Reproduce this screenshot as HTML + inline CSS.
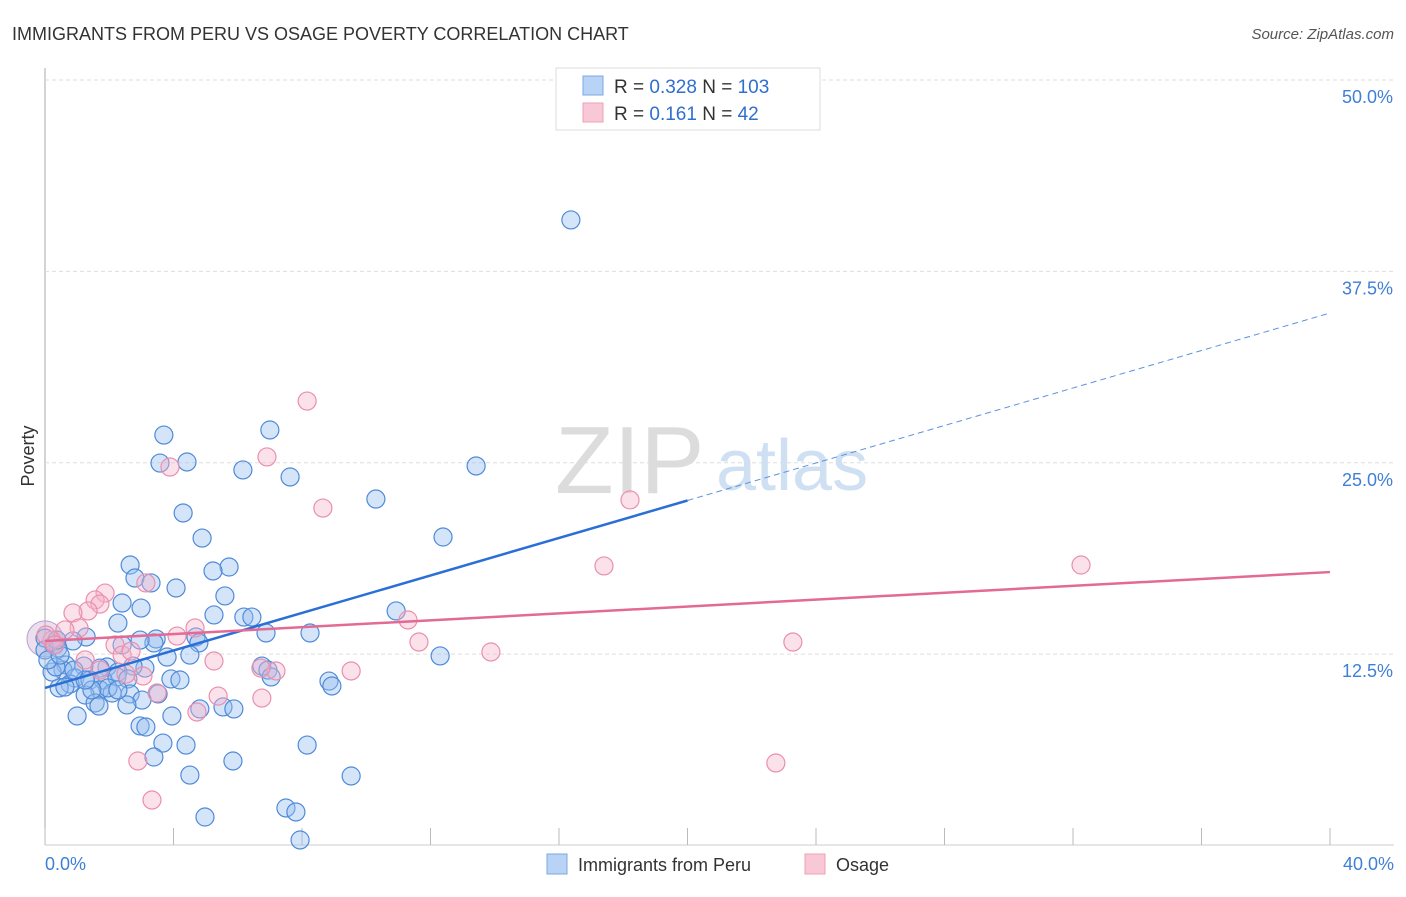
<!DOCTYPE html>
<html><head><meta charset="utf-8"><style>
body{margin:0;background:#fff;font-family:"Liberation Sans",sans-serif}
svg text{font-family:"Liberation Sans",sans-serif}
</style></head><body>
<svg id="chart" width="1406" height="892" viewBox="0 0 1406 892">
<text x="12" y="40" font-size="18" fill="#333">IMMIGRANTS FROM PERU VS OSAGE POVERTY CORRELATION CHART</text>
<text x="1394" y="39" font-size="15" fill="#555" font-style="italic" text-anchor="end">Source: ZipAtlas.com</text>
<g id="grid"></g>
<g>
<text x="555" y="493" font-size="96" fill="#dcdcdc" font-family="Liberation Serif,serif">ZIP</text>
<text x="716" y="490" font-size="72" fill="#cfe0f3">atlas</text>
</g>
<text transform="translate(34,456) rotate(-90)" font-size="18" fill="#333" text-anchor="middle">Poverty</text>
<g id="marks"></g>
<g id="lines"></g>
<g>
<rect x="556" y="68" width="264" height="62" fill="#fff" stroke="#ddd"/>
<rect x="583" y="76" width="20" height="19" fill="#b8d3f5" stroke="#7aa8e3"/>
<rect x="583" y="103" width="20" height="19" fill="#f9c8d6" stroke="#eda0b8"/>
<text x="614" y="93" font-size="19" fill="#333">R = <tspan fill="#2f6fcf">0.328</tspan>   N = <tspan fill="#2f6fcf">103</tspan></text>
<text x="614" y="120" font-size="19" fill="#333">R =  <tspan fill="#2f6fcf">0.161</tspan>   N =   <tspan fill="#2f6fcf">42</tspan></text>
</g>
<g>
<rect x="547" y="854" width="20" height="20" fill="#b8d3f5" stroke="#7aa8e3"/>
<text x="578" y="871" font-size="18" fill="#333">Immigrants from Peru</text>
<rect x="805" y="854" width="20" height="20" fill="#f9c8d6" stroke="#eda0b8"/>
<text x="836" y="871" font-size="18" fill="#333">Osage</text>
</g>
</svg>
<script>
const yTicks=[12.5,25,37.5,50];
const yTickLabels=["12.5%","25.0%","37.5%","50.0%"];
const xEdgeLabels=["0.0%","40.0%"];
const bluePts=[[571,220],[476,466],[376,499],[443,537],[270,430],[164,435],[187,462],[160,463],[243,470],[290,477],[183,513],[202,538],[130,565],[229,567],[213,571],[135,578],[151,583],[176,588],[225,596],[122,603],[141,608],[214,615],[244,617],[252,617],[396,611],[118,623],[266,633],[310,633],[156,639],[154,643],[196,637],[199,643],[86,637],[73,641],[54,645],[58,648],[190,655],[167,657],[440,656],[262,666],[268,670],[271,677],[329,681],[332,686],[145,668],[133,666],[107,667],[118,672],[100,668],[84,666],[66,665],[63,670],[52,672],[56,667],[75,678],[70,684],[90,680],[103,680],[117,677],[128,679],[171,679],[180,680],[59,688],[100,690],[112,693],[85,695],[130,694],[158,694],[142,700],[95,703],[99,706],[127,705],[223,707],[234,709],[200,709],[77,716],[172,716],[140,726],[146,727],[163,743],[186,745],[307,745],[154,757],[233,761],[190,775],[351,776],[286,808],[296,812],[205,817],[300,840],[45,638],[45,650],[48,660],[60,655],[57,640],[122,645],[108,688],[118,690],[92,690],[65,687],[85,680],[74,670],[140,640]];
const pinkPts=[[307,401],[267,457],[170,467],[323,508],[630,500],[604,566],[1081,565],[146,583],[105,593],[95,600],[100,604],[88,611],[73,613],[79,628],[177,636],[195,628],[115,645],[122,655],[131,651],[408,620],[419,642],[491,652],[793,642],[214,661],[351,671],[276,671],[261,668],[143,676],[126,674],[157,693],[218,696],[197,712],[262,698],[138,761],[776,763],[152,800],[52,640],[46,635],[55,645],[65,630],[85,660],[100,670]];
// convert reference pixel readings to data values (%)
const blueX=bluePts.map(p=>+((p[0]-45)/32.125).toFixed(2));
const blueY=bluePts.map(p=>+((845.5-p[1])/15.31).toFixed(2));
const pinkX=pinkPts.map(p=>+((p[0]-45)/32.125).toFixed(2));
const pinkY=pinkPts.map(p=>+((845.5-p[1])/15.31).toFixed(2));
const blueTrend=[10.29,34.78];
const pinkTrend=[13.36,17.86];
const blueSolidEnd=20.0;

const NS="http://www.w3.org/2000/svg";
const X=v=>45+v*32.125, Y=v=>845.5-v*15.31;
function mk(t,a,p){const e=document.createElementNS(NS,t);for(const k in a)e.setAttribute(k,a[k]);p.appendChild(e);return e;}
const grid=document.getElementById('grid');
mk('line',{x1:45,y1:68,x2:45,y2:845,stroke:'#aaa'},grid);
mk('line',{x1:45,y1:845,x2:1394,y2:845,stroke:'#ccc'},grid);
yTicks.forEach((t,i)=>{
 const gl=mk('line',{x1:45,y1:Y(t),x2:1394,y2:Y(t),stroke:'#ddd','stroke-dasharray':'4,3'},grid);
 
 
 const tx=mk('text',{x:1393,y:Y(t)+23,'font-size':18,fill:'#3f7fd6','text-anchor':'end'},grid);
 tx.textContent=yTickLabels[i];
 
 
});
for(let i=0;i<=10;i++){
 const tk=mk('line',{x1:X(i*4),y1:828,x2:X(i*4),y2:845,stroke:'#bbb'},grid);
 
 
}
const xl0=mk('text',{x:45,y:870,'font-size':18,fill:'#3f7fd6'},grid);xl0.textContent=xEdgeLabels[0];


const xl1=mk('text',{x:1394,y:870,'font-size':18,fill:'#3f7fd6','text-anchor':'end'},grid);xl1.textContent=xEdgeLabels[1];



const marks=document.getElementById('marks');
const big1=mk('circle',{cx:X(0),cy:Y(13.5),r:18,fill:'rgba(200,160,200,0.35)',stroke:'#b6a0d6'},marks);


blueX.forEach((x,i)=>{
 const c=mk('circle',{cx:X(x),cy:Y(blueY[i]),r:9,fill:'rgba(150,190,240,0.4)',stroke:'#4f8ad8','stroke-width':1.2},marks);
 
 
});
pinkX.forEach((x,i)=>{
 const c=mk('circle',{cx:X(x),cy:Y(pinkY[i]),r:9,fill:'rgba(246,180,202,0.4)',stroke:'#ea8fae','stroke-width':1.2},marks);
 
 
});
const lines=document.getElementById('lines');
const bm=blueTrend[0]+(blueTrend[1]-blueTrend[0])*blueSolidEnd/40;
const l1=mk('line',{x1:X(0),y1:Y(blueTrend[0]),x2:X(blueSolidEnd),y2:Y(bm),stroke:'#2a6fd6','stroke-width':2.5},lines);


const l2=mk('line',{x1:X(blueSolidEnd),y1:Y(bm),x2:X(40),y2:Y(blueTrend[1]),stroke:'#5b93db','stroke-width':1,'stroke-dasharray':'6,4'},lines);


const l3=mk('line',{x1:X(0),y1:Y(pinkTrend[0]),x2:X(40),y2:Y(pinkTrend[1]),stroke:'#e36a95','stroke-width':2.5},lines);


</script>
</body></html>
